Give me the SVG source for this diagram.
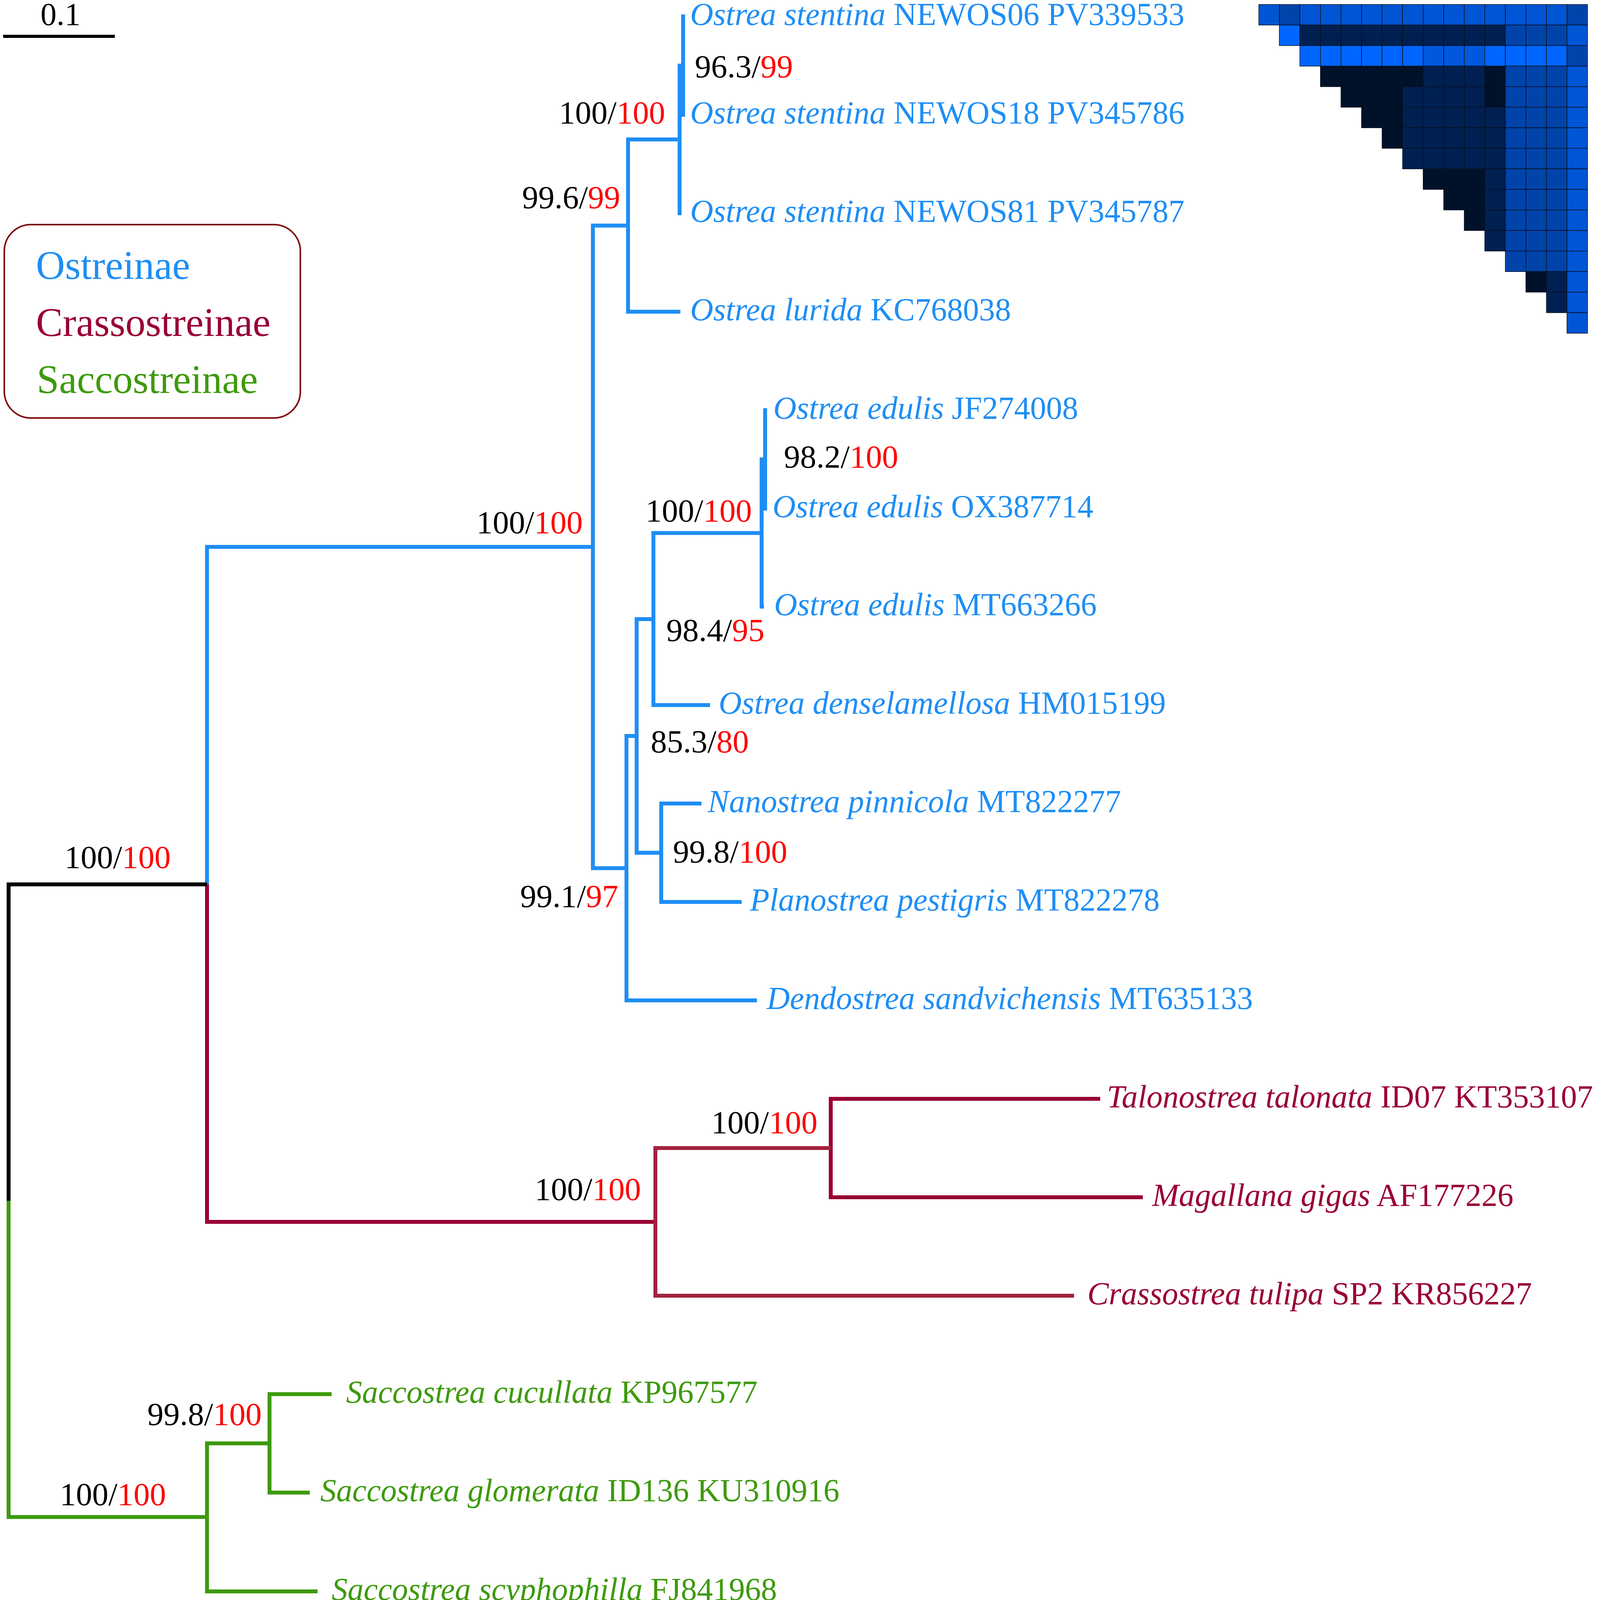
<svg xmlns="http://www.w3.org/2000/svg" width="4094" height="4122" viewBox="0 0 4094 4122">
<style>
.e{fill:none;stroke-width:10;stroke-linecap:butt}
.b{stroke:#1E8EF5}.m{stroke:#990033}.m2{stroke:#A3223F}.g{stroke:#3D9A0D}.k{stroke:#000}
text{font-family:"Liberation Serif","Times New Roman",serif;font-size:82px}
.tb{fill:#1E8EF5}.tm{fill:#990033}.tg{fill:#3D9A0D}
.i{font-style:italic}
.sp{font-size:83px}
.s{fill:#000}.r{fill:#FF0000}
.lg{font-size:103px}
.hc{stroke:#0a1020;stroke-width:1.5}
.B{fill:#0066FF}.M{fill:#0055D5}.L{fill:#0058DC}.D{fill:#0044AA}.N{fill:#002052}.V{fill:#00112A}
</style>
<rect width="4094" height="4122" fill="#fff"/>
<g id="scalebar">
<line x1="8" y1="93" x2="294" y2="93" stroke="#000" stroke-width="8"/>
<text x="155" y="64" text-anchor="middle" font-size="76" fill="#000">0.1</text>
</g>
<g id="legend">
<rect x="11" y="575" width="758" height="495" rx="68" ry="68" fill="#fff" stroke="#7E0A0A" stroke-width="4"/>
<text class="lg tb" x="92" y="714">Ostreinae</text>
<text class="lg tm" x="92" y="860">Crassostreinae</text>
<text class="lg tg" x="94" y="1006">Saccostreinae</text>
</g>
<g id="connectors">
<path class="e b" d="M530 1395V2264M530 1400H1518M1518 572.5V2227.5M1518 577.5H1608M1608 352V803M1608 357H1740M1608 798H1742M1740 163V551M1740 168H1749M1749 37V299M1749 42H1754M1749 294H1754M1740 546H1745M1518 2222.5H1604M1604 1879V2566M1604 2561H1938M1604 1884H1630M1630 1580V2188M1630 2183H1693M1693 2052V2314M1693 2057H1796M1693 2309H1899M1630 1585H1673M1673 1359.5V1810M1673 1805H1818M1673 1364.5H1950M1950 1171V1558M1950 1553H1956M1950 1176H1959M1959 1045V1307M1959 1050H1964M1959 1302H1964"/>
<path class="e m" d="M530 2264V3133M530 3128H1678M2127 2808V3070M2127 2813H2817M2127 3065H2926"/>
<path class="e m2" d="M1678 2934V3322M1678 2939H2127M1678 3317H2750"/>
<path class="e k" d="M22 2259V3074M22 2264H530"/>
<path class="e g" d="M22 3074V3888.5M22 3883.5H530M530 3690V4079M530 3695H690M530 4074H813M690 3564V3826M690 3569H849M690 3821H793"/>
</g>
<g id="supports">
<text class="sp" x="437" y="2222" text-anchor="end"><tspan class="s">100/</tspan><tspan class="r">100</tspan></text>
<text class="sp" x="1492" y="1365" text-anchor="end"><tspan class="s">100/</tspan><tspan class="r">100</tspan></text>
<text class="sp" x="1588" y="533" text-anchor="end"><tspan class="s">99.6/</tspan><tspan class="r">99</tspan></text>
<text class="sp" x="1703" y="316" text-anchor="end"><tspan class="s">100/</tspan><tspan class="r">100</tspan></text>
<text class="sp" x="1779" y="198"><tspan class="s">96.3/</tspan><tspan class="r">99</tspan></text>
<text class="sp" x="1925" y="1335" text-anchor="end"><tspan class="s">100/</tspan><tspan class="r">100</tspan></text>
<text class="sp" x="2007" y="1197"><tspan class="s">98.2/</tspan><tspan class="r">100</tspan></text>
<text class="sp" x="1706" y="1641"><tspan class="s">98.4/</tspan><tspan class="r">95</tspan></text>
<text class="sp" x="1666" y="1926"><tspan class="s">85.3/</tspan><tspan class="r">80</tspan></text>
<text class="sp" x="1723" y="2208"><tspan class="s">99.8/</tspan><tspan class="r">100</tspan></text>
<text class="sp" x="1583" y="2322" text-anchor="end"><tspan class="s">99.1/</tspan><tspan class="r">97</tspan></text>
<text class="sp" x="1641" y="3072" text-anchor="end"><tspan class="s">100/</tspan><tspan class="r">100</tspan></text>
<text class="sp" x="2093" y="2901" text-anchor="end"><tspan class="s">100/</tspan><tspan class="r">100</tspan></text>
<text class="sp" x="670" y="3648" text-anchor="end"><tspan class="s">99.8/</tspan><tspan class="r">100</tspan></text>
<text class="sp" x="425" y="3853" text-anchor="end"><tspan class="s">100/</tspan><tspan class="r">100</tspan></text>
</g>
<g id="tip-NEWOS06"><text class="tb" x="1767" y="64"><tspan class="i">Ostrea stentina</tspan> NEWOS06 PV339533</text></g>
<g id="tip-NEWOS18"><text class="tb" x="1767" y="316"><tspan class="i">Ostrea stentina</tspan> NEWOS18 PV345786</text></g>
<g id="tip-NEWOS81"><text class="tb" x="1767" y="568"><tspan class="i">Ostrea stentina</tspan> NEWOS81 PV345787</text></g>
<g id="tip-KC768038"><text class="tb" x="1767" y="820"><tspan class="i">Ostrea lurida</tspan> KC768038</text></g>
<g id="tip-JF274008"><text class="tb" x="1980" y="1072"><tspan class="i">Ostrea edulis</tspan> JF274008</text></g>
<g id="tip-OX387714"><text class="tb" x="1978" y="1324"><tspan class="i">Ostrea edulis</tspan> OX387714</text></g>
<g id="tip-MT663266"><text class="tb" x="1982" y="1575"><tspan class="i">Ostrea edulis</tspan> MT663266</text></g>
<g id="tip-HM015199"><text class="tb" x="1840" y="1827"><tspan class="i">Ostrea denselamellosa</tspan> HM015199</text></g>
<g id="tip-MT822277"><text class="tb" x="1812" y="2079"><tspan class="i">Nanostrea pinnicola</tspan> MT822277</text></g>
<g id="tip-MT822278"><text class="tb" x="1920" y="2331"><tspan class="i">Planostrea pestigris</tspan> MT822278</text></g>
<g id="tip-MT635133"><text class="tb" x="1963" y="2583"><tspan class="i">Dendostrea sandvichensis</tspan> MT635133</text></g>
<g id="tip-KT353107"><text class="tm" x="2834" y="2835"><tspan class="i">Talonostrea talonata</tspan> ID07 KT353107</text></g>
<g id="tip-AF177226"><text class="tm" x="2950" y="3087"><tspan class="i">Magallana gigas</tspan> AF177226</text></g>
<g id="tip-KR856227"><text class="tm" x="2784" y="3339"><tspan class="i">Crassostrea tulipa</tspan> SP2 KR856227</text></g>
<g id="tip-KP967577"><text class="tg" x="886" y="3591"><tspan class="i">Saccostrea cucullata</tspan> KP967577</text></g>
<g id="tip-KU310916"><text class="tg" x="820" y="3843"><tspan class="i">Saccostrea glomerata</tspan> ID136 KU310916</text></g>
<g id="tip-FJ841968"><text class="tg" x="849" y="4096"><tspan class="i">Saccostrea scyphophilla</tspan> FJ841968</text></g>
<g id="heatmap" transform="translate(3223,11.5)">
<g class="hc">
<rect class="M" x="0" y="0" width="52.6" height="52.6"/><rect class="D" x="52.6" y="0" width="52.6" height="52.6"/><rect class="M" x="105.2" y="0" width="52.6" height="52.6"/><rect class="M" x="157.8" y="0" width="52.6" height="52.6"/><rect class="M" x="210.4" y="0" width="52.6" height="52.6"/><rect class="M" x="263" y="0" width="52.6" height="52.6"/><rect class="M" x="315.6" y="0" width="52.6" height="52.6"/><rect class="M" x="368.2" y="0" width="52.6" height="52.6"/><rect class="M" x="420.8" y="0" width="52.6" height="52.6"/><rect class="M" x="473.4" y="0" width="52.6" height="52.6"/><rect class="M" x="526" y="0" width="52.6" height="52.6"/><rect class="M" x="578.6" y="0" width="52.6" height="52.6"/><rect class="M" x="631.2" y="0" width="52.6" height="52.6"/><rect class="M" x="683.8" y="0" width="52.6" height="52.6"/><rect class="M" x="736.4" y="0" width="52.6" height="52.6"/><rect class="D" x="789" y="0" width="52.6" height="52.6"/>
<rect class="B" x="52.6" y="52.6" width="52.6" height="52.6"/><rect class="N" x="105.2" y="52.6" width="52.6" height="52.6"/><rect class="N" x="157.8" y="52.6" width="52.6" height="52.6"/><rect class="N" x="210.4" y="52.6" width="52.6" height="52.6"/><rect class="N" x="263" y="52.6" width="52.6" height="52.6"/><rect class="N" x="315.6" y="52.6" width="52.6" height="52.6"/><rect class="N" x="368.2" y="52.6" width="52.6" height="52.6"/><rect class="N" x="420.8" y="52.6" width="52.6" height="52.6"/><rect class="N" x="473.4" y="52.6" width="52.6" height="52.6"/><rect class="N" x="526" y="52.6" width="52.6" height="52.6"/><rect class="N" x="578.6" y="52.6" width="52.6" height="52.6"/><rect class="D" x="631.2" y="52.6" width="52.6" height="52.6"/><rect class="D" x="683.8" y="52.6" width="52.6" height="52.6"/><rect class="D" x="736.4" y="52.6" width="52.6" height="52.6"/><rect class="M" x="789" y="52.6" width="52.6" height="52.6"/>
<rect class="B" x="105.2" y="105.2" width="52.6" height="52.6"/><rect class="B" x="157.8" y="105.2" width="52.6" height="52.6"/><rect class="B" x="210.4" y="105.2" width="52.6" height="52.6"/><rect class="B" x="263" y="105.2" width="52.6" height="52.6"/><rect class="B" x="315.6" y="105.2" width="52.6" height="52.6"/><rect class="B" x="368.2" y="105.2" width="52.6" height="52.6"/><rect class="L" x="420.8" y="105.2" width="52.6" height="52.6"/><rect class="L" x="473.4" y="105.2" width="52.6" height="52.6"/><rect class="L" x="526" y="105.2" width="52.6" height="52.6"/><rect class="B" x="578.6" y="105.2" width="52.6" height="52.6"/><rect class="B" x="631.2" y="105.2" width="52.6" height="52.6"/><rect class="B" x="683.8" y="105.2" width="52.6" height="52.6"/><rect class="B" x="736.4" y="105.2" width="52.6" height="52.6"/><rect class="D" x="789" y="105.2" width="52.6" height="52.6"/>
<rect class="V" x="157.8" y="157.8" width="52.6" height="52.6"/><rect class="V" x="210.4" y="157.8" width="52.6" height="52.6"/><rect class="V" x="263" y="157.8" width="52.6" height="52.6"/><rect class="V" x="315.6" y="157.8" width="52.6" height="52.6"/><rect class="V" x="368.2" y="157.8" width="52.6" height="52.6"/><rect class="N" x="420.8" y="157.8" width="52.6" height="52.6"/><rect class="N" x="473.4" y="157.8" width="52.6" height="52.6"/><rect class="N" x="526" y="157.8" width="52.6" height="52.6"/><rect class="V" x="578.6" y="157.8" width="52.6" height="52.6"/><rect class="D" x="631.2" y="157.8" width="52.6" height="52.6"/><rect class="D" x="683.8" y="157.8" width="52.6" height="52.6"/><rect class="D" x="736.4" y="157.8" width="52.6" height="52.6"/><rect class="M" x="789" y="157.8" width="52.6" height="52.6"/>
<rect class="V" x="210.4" y="210.4" width="52.6" height="52.6"/><rect class="V" x="263" y="210.4" width="52.6" height="52.6"/><rect class="V" x="315.6" y="210.4" width="52.6" height="52.6"/><rect class="N" x="368.2" y="210.4" width="52.6" height="52.6"/><rect class="N" x="420.8" y="210.4" width="52.6" height="52.6"/><rect class="N" x="473.4" y="210.4" width="52.6" height="52.6"/><rect class="N" x="526" y="210.4" width="52.6" height="52.6"/><rect class="V" x="578.6" y="210.4" width="52.6" height="52.6"/><rect class="D" x="631.2" y="210.4" width="52.6" height="52.6"/><rect class="D" x="683.8" y="210.4" width="52.6" height="52.6"/><rect class="D" x="736.4" y="210.4" width="52.6" height="52.6"/><rect class="M" x="789" y="210.4" width="52.6" height="52.6"/>
<rect class="V" x="263" y="263" width="52.6" height="52.6"/><rect class="V" x="315.6" y="263" width="52.6" height="52.6"/><rect class="N" x="368.2" y="263" width="52.6" height="52.6"/><rect class="N" x="420.8" y="263" width="52.6" height="52.6"/><rect class="N" x="473.4" y="263" width="52.6" height="52.6"/><rect class="N" x="526" y="263" width="52.6" height="52.6"/><rect class="N" x="578.6" y="263" width="52.6" height="52.6"/><rect class="D" x="631.2" y="263" width="52.6" height="52.6"/><rect class="D" x="683.8" y="263" width="52.6" height="52.6"/><rect class="D" x="736.4" y="263" width="52.6" height="52.6"/><rect class="M" x="789" y="263" width="52.6" height="52.6"/>
<rect class="V" x="315.6" y="315.6" width="52.6" height="52.6"/><rect class="N" x="368.2" y="315.6" width="52.6" height="52.6"/><rect class="N" x="420.8" y="315.6" width="52.6" height="52.6"/><rect class="N" x="473.4" y="315.6" width="52.6" height="52.6"/><rect class="N" x="526" y="315.6" width="52.6" height="52.6"/><rect class="N" x="578.6" y="315.6" width="52.6" height="52.6"/><rect class="D" x="631.2" y="315.6" width="52.6" height="52.6"/><rect class="D" x="683.8" y="315.6" width="52.6" height="52.6"/><rect class="D" x="736.4" y="315.6" width="52.6" height="52.6"/><rect class="M" x="789" y="315.6" width="52.6" height="52.6"/>
<rect class="N" x="368.2" y="368.2" width="52.6" height="52.6"/><rect class="N" x="420.8" y="368.2" width="52.6" height="52.6"/><rect class="N" x="473.4" y="368.2" width="52.6" height="52.6"/><rect class="N" x="526" y="368.2" width="52.6" height="52.6"/><rect class="N" x="578.6" y="368.2" width="52.6" height="52.6"/><rect class="D" x="631.2" y="368.2" width="52.6" height="52.6"/><rect class="D" x="683.8" y="368.2" width="52.6" height="52.6"/><rect class="D" x="736.4" y="368.2" width="52.6" height="52.6"/><rect class="M" x="789" y="368.2" width="52.6" height="52.6"/>
<rect class="V" x="420.8" y="420.8" width="52.6" height="52.6"/><rect class="V" x="473.4" y="420.8" width="52.6" height="52.6"/><rect class="V" x="526" y="420.8" width="52.6" height="52.6"/><rect class="N" x="578.6" y="420.8" width="52.6" height="52.6"/><rect class="D" x="631.2" y="420.8" width="52.6" height="52.6"/><rect class="D" x="683.8" y="420.8" width="52.6" height="52.6"/><rect class="D" x="736.4" y="420.8" width="52.6" height="52.6"/><rect class="M" x="789" y="420.8" width="52.6" height="52.6"/>
<rect class="V" x="473.4" y="473.4" width="52.6" height="52.6"/><rect class="V" x="526" y="473.4" width="52.6" height="52.6"/><rect class="N" x="578.6" y="473.4" width="52.6" height="52.6"/><rect class="D" x="631.2" y="473.4" width="52.6" height="52.6"/><rect class="D" x="683.8" y="473.4" width="52.6" height="52.6"/><rect class="D" x="736.4" y="473.4" width="52.6" height="52.6"/><rect class="M" x="789" y="473.4" width="52.6" height="52.6"/>
<rect class="V" x="526" y="526" width="52.6" height="52.6"/><rect class="N" x="578.6" y="526" width="52.6" height="52.6"/><rect class="D" x="631.2" y="526" width="52.6" height="52.6"/><rect class="D" x="683.8" y="526" width="52.6" height="52.6"/><rect class="D" x="736.4" y="526" width="52.6" height="52.6"/><rect class="M" x="789" y="526" width="52.6" height="52.6"/>
<rect class="N" x="578.6" y="578.6" width="52.6" height="52.6"/><rect class="D" x="631.2" y="578.6" width="52.6" height="52.6"/><rect class="D" x="683.8" y="578.6" width="52.6" height="52.6"/><rect class="D" x="736.4" y="578.6" width="52.6" height="52.6"/><rect class="M" x="789" y="578.6" width="52.6" height="52.6"/>
<rect class="D" x="631.2" y="631.2" width="52.6" height="52.6"/><rect class="D" x="683.8" y="631.2" width="52.6" height="52.6"/><rect class="D" x="736.4" y="631.2" width="52.6" height="52.6"/><rect class="M" x="789" y="631.2" width="52.6" height="52.6"/>
<rect class="V" x="683.8" y="683.8" width="52.6" height="52.6"/><rect class="N" x="736.4" y="683.8" width="52.6" height="52.6"/><rect class="M" x="789" y="683.8" width="52.6" height="52.6"/>
<rect class="N" x="736.4" y="736.4" width="52.6" height="52.6"/><rect class="M" x="789" y="736.4" width="52.6" height="52.6"/>
<rect class="M" x="789" y="789" width="52.6" height="52.6"/>
</g>
</g>
</svg>
